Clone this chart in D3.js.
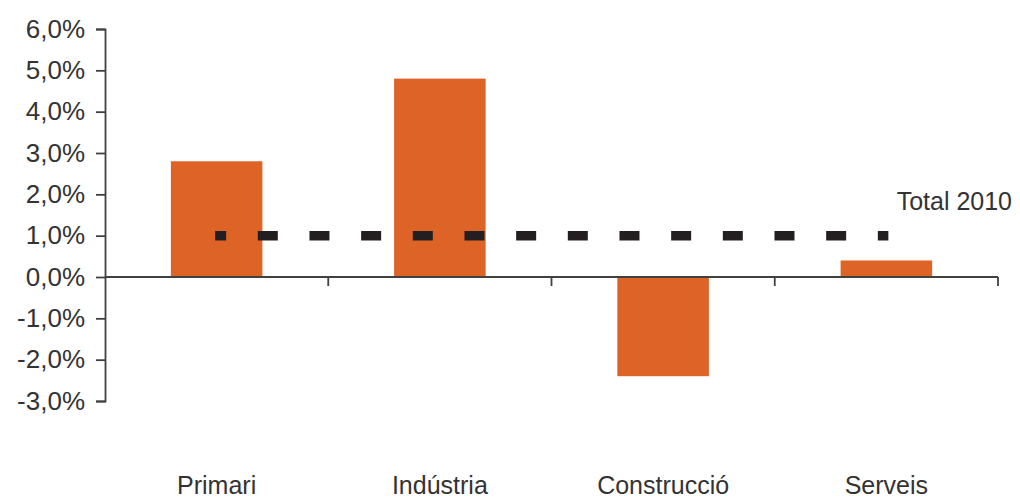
<!DOCTYPE html>
<html>
<head>
<meta charset="utf-8">
<script src="https://cdn.jsdelivr.net/npm/d3@7"></script>
<style>
  html, body { margin: 0; padding: 0; background: #ffffff; }
  svg { display: block; }
  text { font-family: "Liberation Sans", Arial, sans-serif; fill: #333333; }
</style>
</head>
<body>
<svg id="chart" width="1020" height="500"></svg>
<script>
const categories = ["Primari", "Indústria", "Construcció", "Serveis"];
const values = [2.8, 4.8, -2.4, 0.4];
const totalLabel = "Total 2010";
const totalValue = 1.0;
const yTicks = [-3, -2, -1, 0, 1, 2, 3, 4, 5, 6];

const svg = d3.select("#chart");
const x0 = 105, x1 = 998, yTop = 29, yBot = 401;

const x = d3.scaleBand().domain(categories).range([x0, x1])
  .paddingInner(0.59).paddingOuter(0.295);
const y = d3.scaleLinear().domain([-3, 6]).range([yBot, yTop]);

const fmt = v => v.toFixed(1).replace(".", ",") + "%";

// bars
svg.append("g").selectAll("rect").data(values).join("rect")
  .attr("x", (d, i) => x(categories[i]))
  .attr("width", x.bandwidth())
  .attr("y", d => y(Math.max(0, d)))
  .attr("height", d => Math.abs(y(d) - y(0)))
  .attr("fill", "#dd6327");

// y axis
const yAxis = svg.append("g").attr("transform", `translate(${x0},0)`)
  .call(d3.axisLeft(y).tickValues(yTicks).tickFormat(fmt).tickSize(9).tickPadding(11));
yAxis.select(".domain").attr("stroke", "#404040").attr("stroke-width", 1.8);
yAxis.selectAll(".tick line").attr("stroke", "#404040").attr("stroke-width", 1.8);
yAxis.selectAll(".tick text").attr("font-size", 26).attr("fill", "#333")
  .attr("font-family", "Liberation Sans, Arial, sans-serif");

// x axis at zero
const step = x.step();
const boundaries = categories.map(c => x(c) + x.bandwidth() / 2 + step / 2);
const xg = svg.append("g");
xg.append("line").attr("x1", x0).attr("x2", x1).attr("y1", y(0)).attr("y2", y(0))
  .attr("stroke", "#404040").attr("stroke-width", 1.8);
xg.selectAll("line.tk").data(boundaries).join("line").attr("class", "tk")
  .attr("x1", d => d).attr("x2", d => d).attr("y1", y(0)).attr("y2", y(0) + 9)
  .attr("stroke", "#404040").attr("stroke-width", 1.8);

// category labels
svg.append("g").selectAll("text").data(categories).join("text")
  .attr("x", d => x(d) + x.bandwidth() / 2)
  .attr("y", 494)
  .attr("text-anchor", "middle")
  .attr("font-size", 25)
  .text(d => d);

// total line
const lx1 = x(categories[0]) + x.bandwidth() / 2 - 1.5;
const lx2 = x(categories[categories.length - 1]) + x.bandwidth() / 2 + 2;
svg.append("line")
  .attr("x1", lx1).attr("x2", lx2)
  .attr("y1", y(totalValue)).attr("y2", y(totalValue))
  .attr("stroke", "#231f20").attr("stroke-width", 9.5)
  .attr("stroke-dasharray", "20 31.67")
  .attr("stroke-dashoffset", 9);

svg.append("text")
  .attr("x", 1012).attr("y", 210)
  .attr("text-anchor", "end")
  .attr("font-size", 25)
  .text(totalLabel);
</script>
</body>
</html>
